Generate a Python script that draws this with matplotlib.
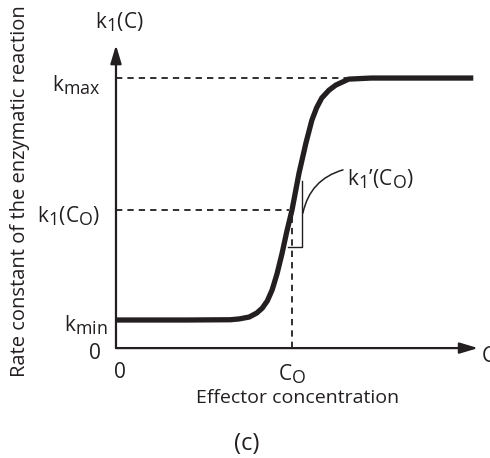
import matplotlib
matplotlib.use('Agg')
import matplotlib.pyplot as plt
import matplotlib._mathtext as _mt

plt.rcParams['font.family'] = ['Open Sans', 'DejaVu Sans']
plt.rcParams['mathtext.fontset'] = 'custom'
plt.rcParams['mathtext.rm'] = 'Open Sans'
plt.rcParams['mathtext.it'] = 'Open Sans'
# subscripts in the figure are nearly full size
_mt.SHRINK_FACTOR = 0.85

ink = '#231f20'

# effector concentration (C0 = 1) and rate constant (kmax = 1)
conc = [0.0, 0.40, 0.65, 0.70, 0.757, 0.80, 0.831, 0.86, 0.887, 0.915, 0.944, 0.97,
        1.0, 1.04, 1.079, 1.113, 1.14, 1.169, 1.21, 1.249, 1.322, 1.45, 2.03]
rate = [0.104, 0.104, 0.105, 0.108, 0.115, 0.13, 0.148, 0.175, 0.215, 0.275, 0.352, 0.43,
        0.511, 0.648, 0.759, 0.844, 0.89, 0.926, 0.955, 0.974, 0.996, 1.0, 1.0]

k_min = 0.104
k_max = 1.0
c0 = 1.0
k_c0 = 0.511
# tangent triangle at C0
tri_x = [0.977, 1.057, 1.057]
tri_y = [0.374, 0.374, 0.62]

fig = plt.figure(figsize=(4.9, 4.58), dpi=100)
ax = fig.add_axes([0, 0, 1, 1])
ax.set_xlim(-0.659, 2.125)
ax.set_ylim(-0.407, 1.289)
ax.axis('off')

# axes with arrows
arrow = dict(arrowstyle='-|>,head_length=1.1,head_width=0.33', color=ink, lw=1.6,
             shrinkA=0, shrinkB=0)
ax.annotate('', xy=(2.057, 0), xytext=(0, 0), arrowprops=arrow)
ax.annotate('', xy=(0, 1.122), xytext=(0, 0), arrowprops=arrow)

# dashed guides
dash = dict(color=ink, lw=1.3, ls=(0, (3.5, 2.8)))
ax.plot([0, 2.03], [k_max, k_max], **dash)
ax.plot([0, 0.985], [k_c0, k_c0], **dash)
ax.plot([c0, c0], [0, k_c0], **dash)

# tangent triangle
ax.plot(tri_x, tri_y, color=ink, lw=1.0)

# sigmoid
ax.plot(conc, rate, color=ink, lw=3.8, solid_capstyle='butt', solid_joinstyle='round')

# leader to slope label
ax.annotate('', xy=(1.062, 0.50), xytext=(1.29, 0.66),
            arrowprops=dict(arrowstyle='-', color=ink, lw=1.1, shrinkA=0, shrinkB=0,
                            connectionstyle='arc3,rad=0.3'))

fs = 15
ax.text(1.31, 0.625, "k$_{1}$\u2019(C$_{\\mathrm{O}}$)", fontsize=fs, color=ink, va='center', ha='left')
ax.text(-0.09, 0.975, r"k$_{\mathrm{max}}$", fontsize=fs, color=ink, va='center', ha='right')
ax.text(-0.09, 0.49, r"k$_{1}$(C$_{\mathrm{O}}$)", fontsize=fs, color=ink, va='center', ha='right')
ax.text(-0.05, 0.085, r"k$_{\mathrm{min}}$", fontsize=fs, color=ink, va='center', ha='right')
ax.text(-0.12, -0.02, '0', fontsize=fs, color=ink, va='center', ha='center')
ax.text(0.02, -0.09, '0', fontsize=fs, color=ink, va='center', ha='center')
ax.text(c0, -0.095, r"C$_{\mathrm{O}}$", fontsize=fs, color=ink, va='center', ha='center')
ax.text(2.08, -0.03, 'C', fontsize=fs, color=ink, va='center', ha='left')
ax.text(0.02, 1.205, r"k$_{1}$(C)", fontsize=fs, color=ink, va='center', ha='center')
ax.text(1.03, -0.185, 'Effector concentration', fontsize=14, color=ink, va='center', ha='center')
ax.text(0.744, -0.355, '(c)', fontsize=17, color=ink, va='center', ha='center')
ax.text(-0.545, 0.58, 'Rate constant of the enzymatic reaction', fontsize=14.5, color=ink,
        va='center', ha='center', rotation=90)

fig.savefig('out.png', dpi=100)
